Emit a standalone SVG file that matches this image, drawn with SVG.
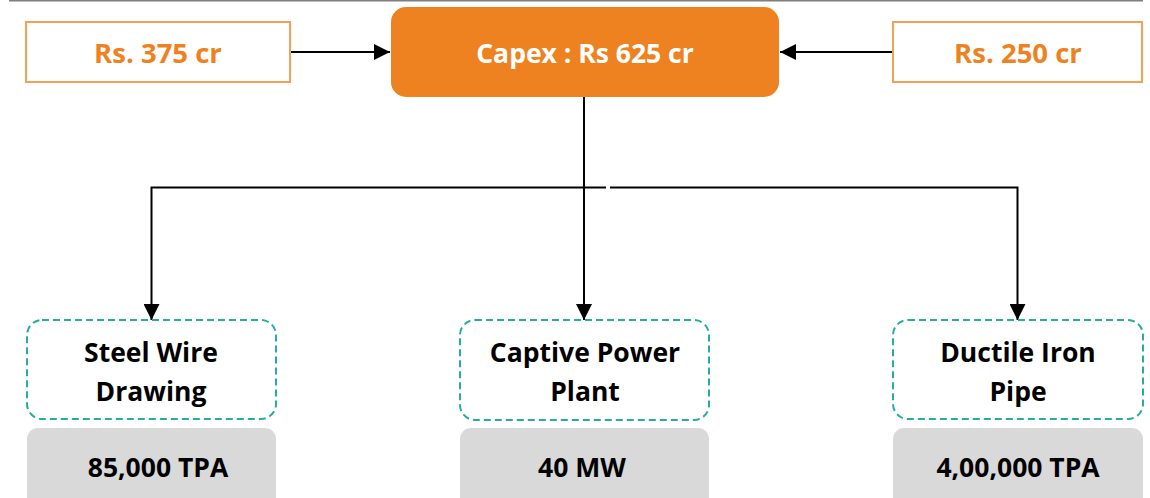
<svg xmlns="http://www.w3.org/2000/svg" width="1150" height="498" viewBox="0 0 1150 498">
<style>
.bg{fill:#ffffff}
.src{fill:#ffffff;stroke:#F4A055;stroke-width:2}
.srcT{fill:#EE8220;font-family:"Open Sans","Liberation Sans",sans-serif;font-weight:700;font-size:27.5px;text-anchor:middle}
.main{fill:#EE8220}
.mainT{fill:#ffffff;font-family:"Open Sans","Liberation Sans",sans-serif;font-weight:700;font-size:26.5px;text-anchor:middle}
.unit{fill:#ffffff;stroke:#25AE9E;stroke-width:2;stroke-dasharray:7 4}
.unitT{fill:#000000;font-family:"Open Sans","Liberation Sans",sans-serif;font-weight:700;font-size:26.5px;text-anchor:middle}
.cap{fill:#D9D9D9}
.conn{fill:none;stroke:#000000;stroke-width:2}
</style>
<defs>
<marker id="ah" viewBox="0 0 16 16" refX="16" refY="8" markerWidth="16" markerHeight="16" markerUnits="userSpaceOnUse" orient="auto">
<path d="M0,0 L16,8 L0,16 Z" fill="#000000"/>
</marker>
</defs>
<rect class="bg" x="0" y="0" width="1150" height="498"/>
<line x1="9" y1="0.5" x2="1143" y2="0.5" stroke="#7F7F7F" stroke-width="2"/>
<g id="connectors">
<line class="conn" x1="290" y1="52" x2="390" y2="52" marker-end="url(#ah)"/>
<line class="conn" x1="893" y1="52" x2="780" y2="52" marker-end="url(#ah)"/>
<line class="conn" x1="584" y1="97" x2="584" y2="320" marker-end="url(#ah)"/>
<polyline class="conn" points="606,187.5 151.5,187.5 151.5,320" marker-end="url(#ah)"/>
<polyline class="conn" points="610,187.5 1017.5,187.5 1017.5,320" marker-end="url(#ah)"/>
</g>
<g id="src-left">
<rect class="src" x="26" y="22" width="264" height="60"/>
<text class="srcT" x="158" y="63">Rs. 375 cr</text>
</g>
<g id="capex">
<rect class="main" x="391" y="7" width="388" height="90" rx="15"/>
<text class="mainT" x="585" y="63">Capex : Rs 625 cr</text>
</g>
<g id="src-right">
<rect class="src" x="893" y="22" width="249" height="60"/>
<text class="srcT" x="1018" y="63">Rs. 250 cr</text>
</g>
<g id="steel-wire">
<rect class="unit" x="27" y="320" width="249" height="99" rx="15"/>
<text class="unitT" x="151" y="362">Steel Wire</text>
<text class="unitT" x="151" y="401">Drawing</text>
</g>
<g id="steel-wire-cap">
<rect class="cap" x="27" y="428" width="249" height="82" rx="11"/>
<text class="unitT" x="158" y="477">85,000 TPA</text>
</g>
<g id="captive-power">
<rect class="unit" x="460" y="320" width="249" height="100" rx="15"/>
<text class="unitT" x="585" y="362">Captive Power</text>
<text class="unitT" x="585" y="401">Plant</text>
</g>
<g id="captive-power-cap">
<rect class="cap" x="460" y="428" width="249" height="82" rx="11"/>
<text class="unitT" x="582" y="477">40 MW</text>
</g>
<g id="ductile-iron">
<rect class="unit" x="893" y="320" width="250" height="99" rx="15"/>
<text class="unitT" x="1018" y="362">Ductile Iron</text>
<text class="unitT" x="1018" y="401">Pipe</text>
</g>
<g id="ductile-iron-cap">
<rect class="cap" x="893" y="428" width="250" height="82" rx="11"/>
<text class="unitT" x="1018" y="477">4,00,000 TPA</text>
</g>
</svg>
